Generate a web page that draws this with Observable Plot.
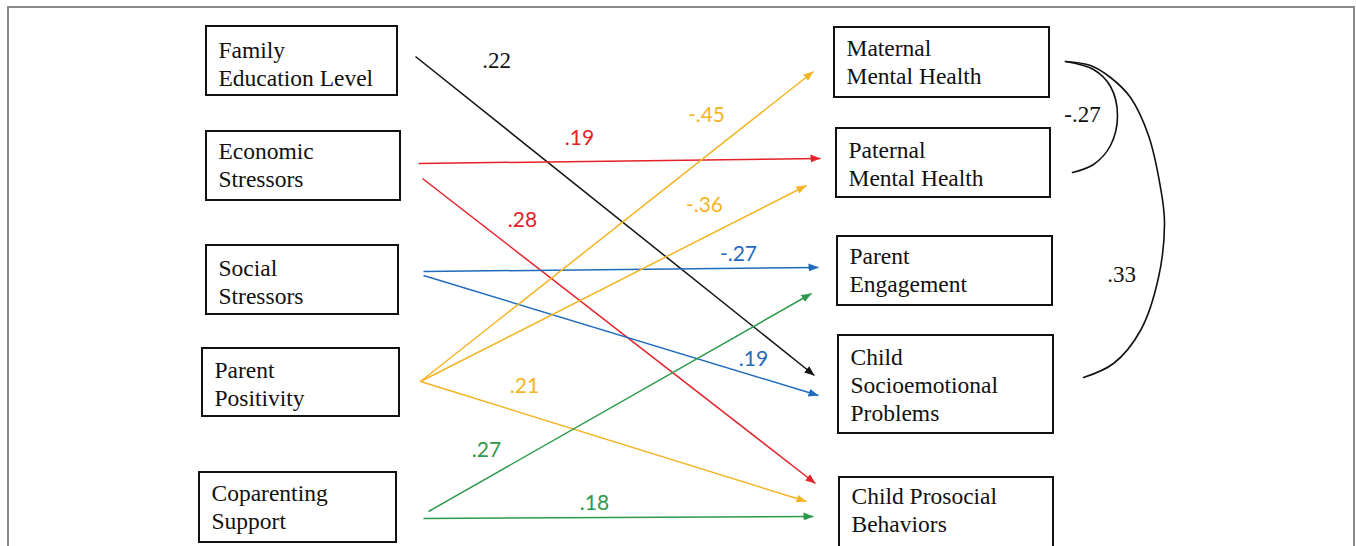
<!DOCTYPE html>
<html>
<head>
<meta charset="utf-8">
<script src="https://cdn.jsdelivr.net/npm/d3@7"></script>
<script src="https://cdn.jsdelivr.net/npm/@observablehq/plot@0.6"></script>
<style>
  html, body { margin: 0; padding: 0; background: #fff; }
  #chart svg { display: block; }
</style>
</head>
<body>
<div id="chart"></div>
<script>
// ---------- data ----------
const sources = ["Family\nEducation Level", "Economic\nStressors", "Social\nStressors", "Parent\nPositivity", "Coparenting\nSupport"];
const outcomes = ["Maternal\nMental Health", "Paternal\nMental Health", "Parent\nEngagement", "Child\nSocioemotional\nProblems", "Child Prosocial\nBehaviors"];
const pathFrom = [0, 1, 1, 2, 2, 3, 3, 3, 4, 4];
const pathTo   = [3, 1, 4, 2, 3, 0, 1, 4, 2, 4];
const pathCoef = [0.22, 0.19, 0.28, -0.27, 0.19, -0.45, -0.36, 0.21, 0.27, 0.18];
const corrFrom = [0, 0];
const corrTo   = [1, 3];
const corrCoef = [-0.27, 0.33];

// ---------- layout (diagram geometry, pixels) ----------
const sourceBoxes = [[206, 26, 397, 95], [206, 131, 400, 200], [206, 245, 398, 314], [202, 348, 399, 416], [199, 472, 396, 542]];
const outcomeBoxes = [[834, 27, 1049, 97], [836, 128, 1050, 197], [837, 236, 1052, 305], [838, 335, 1053, 433], [839, 477, 1053, 548]];
const textBaselines = [54, 155, 272, 374, 497, 52, 154, 260, 361, 500];
const pathGeom = [[415, 56, 814, 375], [418, 163, 820, 158], [422, 178, 815, 483], [423, 271, 818, 267], [423, 275, 818, 395],
                  [420, 381, 813, 71], [420, 381, 806, 185], [420, 381, 806, 501], [428, 511, 811, 293], [423, 518, 813, 516]];
const pathLabelPos = [[496, 60], [579, 138], [522, 220], [738, 254], [753, 359], [706, 115], [704, 205], [524, 386], [486, 450], [594, 503]];
const corrCurves = [
  [[1065, 61], [1093, 69], [1110, 86], [1117, 115], [1110, 145], [1093, 164], [1072, 172]],
  [[1065, 61], [1090, 65], [1110, 77], [1130, 97], [1148, 135], [1160, 187], [1164, 222], [1158, 277], [1140, 330], [1113, 363], [1083, 377]]
];
const corrLabelPos = [[1082, 114], [1121, 274]];
const pageFrame = [8, 7, 1354, 600];
const sourceColor = ["#111111", "#e3222a", "#1f6bbd", "#f4b423", "#2c9a4a"];

// ---------- derived tables ----------
const fmt = v => (v < 0 ? "-" : "") + Math.abs(v).toFixed(2).replace(/^0/, "");
const boxes = [
  ...sources.map((name, i) => ({name, b: sourceBoxes[i]})),
  ...outcomes.map((name, i) => ({name, b: outcomeBoxes[i]}))
].map((d, i) => ({...d, base: textBaselines[i]}));
const paths = pathFrom.map((f, i) => ({
  from: sources[f], to: outcomes[pathTo[i]], coef: pathCoef[i],
  color: sourceColor[f],
  x1: pathGeom[i][0], y1: pathGeom[i][1], x2: pathGeom[i][2], y2: pathGeom[i][3],
  lx: pathLabelPos[i][0], ly: pathLabelPos[i][1]
}));
const curvePts = corrCurves.flatMap((pts, k) => pts.map(([x, y]) => ({k, x, y})));
const corrLabels = corrCoef.map((c, i) => ({text: fmt(c), x: corrLabelPos[i][0], y: corrLabelPos[i][1]}));

// filled triangle arrowhead marker
function triangleMarker(color, context) {
  const doc = (context && context.document) || document;
  const ns = "http://www.w3.org/2000/svg";
  const m = doc.createElementNS(ns, "marker");
  m.setAttribute("viewBox", "-10 -5 10 10");
  m.setAttribute("markerWidth", 10);
  m.setAttribute("markerHeight", 10);
  m.setAttribute("markerUnits", "userSpaceOnUse");
  m.setAttribute("orient", "auto");
  m.setAttribute("fill", color);
  m.setAttribute("stroke", "none");
  const p = doc.createElementNS(ns, "path");
  p.setAttribute("d", "M-10,-4L0,0L-10,4Z");
  m.appendChild(p);
  return m;
}

const FS = 23.5;
const chart = Plot.plot({
  width: 1356,
  height: 546,
  margin: 0,
  x: {domain: [0, 1356], range: [0, 1356], axis: null},
  y: {domain: [0, 546], range: [0, 546], axis: null},
  marks: [
    Plot.rect([pageFrame], {x1: d => d[0], y1: d => d[1], x2: d => d[2], y2: d => d[3], fill: "none", stroke: "#8a8a8a", strokeWidth: 2}),
    Plot.link(paths, {x1: "x1", y1: "y1", x2: "x2", y2: "y2", stroke: d => d.color, strokeWidth: 1.5, markerEnd: triangleMarker}),
    Plot.line(curvePts, {x: "x", y: "y", z: "k", curve: "catmull-rom", stroke: "#111", strokeWidth: 1.6}),
    Plot.rect(boxes, {x1: d => d.b[0], y1: d => d.b[1], x2: d => d.b[2], y2: d => d.b[3], fill: "white", stroke: "#111", strokeWidth: 2}),
    Plot.text(boxes, {x: d => d.b[0] + 12, y: d => d.base - 0.71 * FS, text: "name", textAnchor: "start", lineAnchor: "top",
      lineHeight: 1.2, fontSize: FS, fontFamily: "Liberation Serif, Times New Roman, serif", fill: "#111"}),
    Plot.text(paths.filter(d => d.color === "#111111"), {x: "lx", y: "ly", text: d => fmt(d.coef), fill: "#111", fontSize: 23,
      fontFamily: "Liberation Serif, Times New Roman, serif", lineAnchor: "middle"}),
    Plot.text(paths.filter(d => d.color !== "#111111"), {x: "lx", y: "ly", text: d => fmt(d.coef), fill: d => d.color, fontSize: 21,
      fontFamily: "Lato, Open Sans, sans-serif", lineAnchor: "middle"}),
    Plot.text(corrLabels, {x: "x", y: "y", text: "text", fill: "#111", fontSize: 23,
      fontFamily: "Liberation Serif, Times New Roman, serif", lineAnchor: "middle"})
  ]
});
document.getElementById("chart").appendChild(chart);
</script>
</body>
</html>
